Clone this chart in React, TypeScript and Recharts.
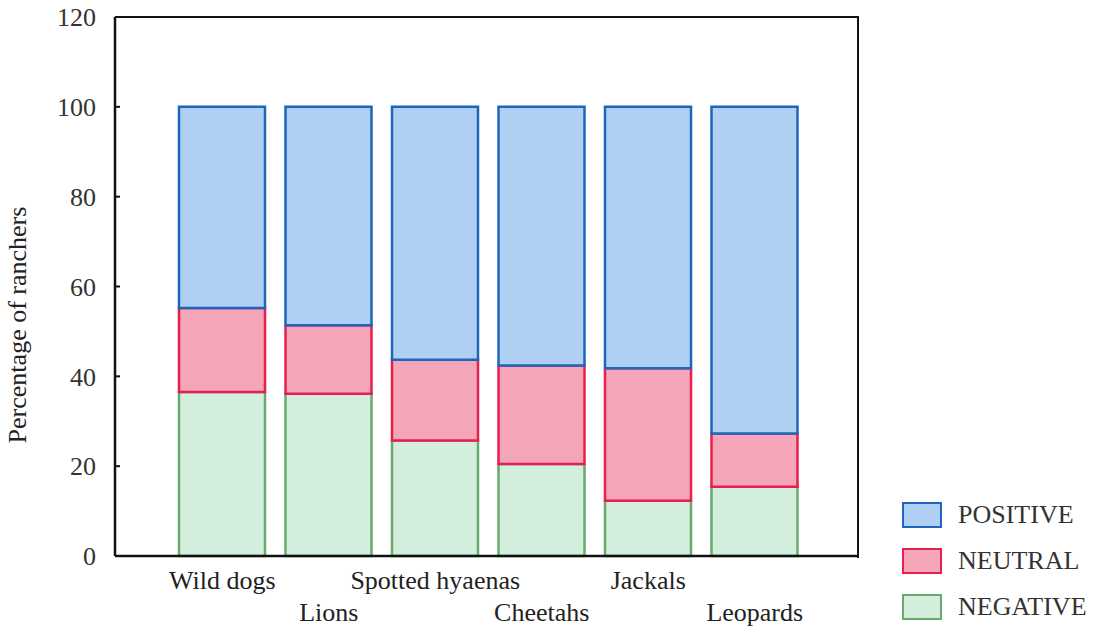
import React from 'react'
import { Bar, BarChart, XAxis, YAxis } from 'recharts'

const species = ['Wild dogs', 'Lions', 'Spotted hyaenas', 'Cheetahs', 'Jackals', 'Leopards']
const negative = [36.5, 36.1, 25.7, 20.5, 12.3, 15.4]
const neutral = [18.7, 15.3, 18.0, 21.9, 29.5, 11.9]
const positive = [44.8, 48.6, 56.3, 57.6, 58.2, 72.7]
const yTicks = [0, 20, 40, 60, 80, 100, 120]

const series = [
    { key: 'negative', name: 'NEGATIVE', fill: '#d3eedc', stroke: '#68aa6e' },
    { key: 'neutral', name: 'NEUTRAL', fill: '#f4a5b8', stroke: '#e81e4e' },
    { key: 'positive', name: 'POSITIVE', fill: '#b0d0f3', stroke: '#1d66bb' },
]

const data = species.map((name, i) => ({
    name,
    negative: negative[i],
    neutral: neutral[i],
    positive: positive[i],
}))

const font = '"Liberation Serif", "DejaVu Serif", serif'

// labels alternate between two rows under the axis
const SpeciesTick = (props: any) => {
    const { x, y, payload, index } = props
    const dy = index % 2 === 0 ? 25 : 57
    return (
        <text x={x} y={y + dy} textAnchor="middle" fontFamily={font} fontSize={26} fill="#222">
            {payload.value}
        </text>
    )
}

const YTitle = () => (
    <text transform="translate(26,325) rotate(-90)" textAnchor="middle" fontFamily={font} fontSize={26} fill="#222">
        Percentage of ranchers
    </text>
)

export default function App() {
    return (
        <div style={{ position: 'absolute', left: 0, top: 0, width: 1096, height: 634, background: '#fff' }}>
            <BarChart
                width={1096}
                height={634}
                data={data}
                margin={{ top: 17, right: 238, left: 0, bottom: 0 }}
                barSize={86}
            >
                <XAxis
                    dataKey="name"
                    tick={<SpeciesTick />}
                    tickLine={false}
                    interval={0}
                    height={78}
                    axisLine={{ stroke: '#111', strokeWidth: 2.5 }}
                    padding={{ left: 54, right: 50 }}
                />
                <YAxis
                    width={115}
                    domain={[0, 120]}
                    ticks={yTicks}
                    tickSize={-5}
                    tickMargin={24}
                    tickLine={{ stroke: '#111', strokeWidth: 2 }}
                    axisLine={{ stroke: '#111', strokeWidth: 2.5 }}
                    tick={{ fontFamily: font, fontSize: 26, fill: '#333' }}
                    label={<YTitle />}
                />
                {series.map(s => (
                    <Bar
                        key={s.key}
                        dataKey={s.key}
                        name={s.name}
                        stackId="a"
                        fill={s.fill}
                        stroke={s.stroke}
                        strokeWidth={2.5}
                        isAnimationActive={false}
                    />
                ))}
            </BarChart>
            {/* top and right frame of the plot */}
            <div style={{
                position: 'absolute', left: 115, top: 16, width: 742, height: 540,
                borderTop: '2.5px solid #111', borderRight: '2.5px solid #111', pointerEvents: 'none',
            }} />
            <div style={{ position: 'absolute', left: 902, top: 492, fontFamily: font, fontSize: 26, color: '#333' }}>
                {[...series].reverse().map(s => (
                    <div key={s.key} style={{ display: 'flex', alignItems: 'center', height: 46 }}>
                        <div style={{ width: 36, height: 22, background: s.fill, border: `2px solid ${s.stroke}`, marginRight: 16 }} />
                        <span>{s.name}</span>
                    </div>
                ))}
            </div>
        </div>
    )
}
